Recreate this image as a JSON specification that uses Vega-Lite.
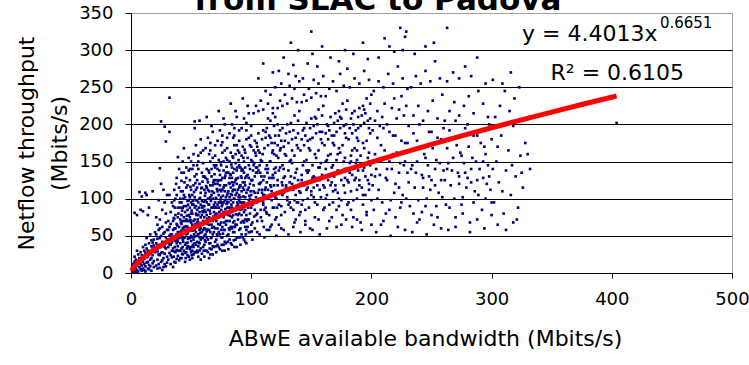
{
"$schema":"https://vega.github.io/schema/vega-lite/v6.json",
"autosize":{"type":"none"},
"width":601,"height":260,
"padding":{"left":131,"top":13,"right":17,"bottom":92},
"background":"white",
"config":{"view":{"stroke":"#a0a0a0","strokeWidth":1},"font":"DejaVu Sans"},
"datasets":{
"pts":[
{"x":1,"y":2},{"x":2,"y":5},{"x":1,"y":8},{"x":3,"y":3},{"x":2,"y":12},{"x":4,"y":7},{"x":3,"y":15},{"x":5,"y":4},{"x":4,"y":18},{"x":5,"y":10},{"x":6,"y":2},{"x":6,"y":14},{"x":7,"y":8},{"x":7,"y":20},{"x":8,"y":5},{"x":8,"y":12},{"x":9,"y":3},{"x":9,"y":17},{"x":6,"y":25},{"x":8,"y":28},{"x":9,"y":10},{"x":3,"y":22},{"x":5,"y":30},{"x":7,"y":14},{"x":9,"y":24},{"x":2,"y":1},{"x":4,"y":1},{"x":10,"y":6},{"x":10,"y":15},{"x":10,"y":35},
{"x":11,"y":4},{"x":11,"y":19},{"x":12,"y":9},{"x":12,"y":27},{"x":13,"y":14},{"x":13,"y":33},{"x":14,"y":6},{"x":14,"y":22},{"x":15,"y":40},{"x":15,"y":11},{"x":16,"y":18},{"x":16,"y":29},{"x":17,"y":3},{"x":17,"y":36},{"x":18,"y":13},{"x":18,"y":24},{"x":19,"y":45},{"x":19,"y":8},{"x":11,"y":12},{"x":12,"y":38},{"x":13,"y":47},{"x":14,"y":30},{"x":15,"y":25},{"x":16,"y":52},{"x":17,"y":20},{"x":18,"y":33},{"x":19,"y":16},{"x":20,"y":28},{"x":12,"y":2},{"x":14,"y":15},{"x":16,"y":9},{"x":18,"y":41},{"x":20,"y":55},{"x":11,"y":30},{"x":13,"y":21},{"x":15,"y":5},{"x":17,"y":44},{"x":19,"y":37},{"x":10,"y":83},{"x":12,"y":108},{"x":18,"y":110},{"x":9,"y":103},{"x":15,"y":88},{"x":14,"y":78},
{"x":21,"y":10},{"x":21,"y":31},{"x":22,"y":18},{"x":22,"y":46},{"x":23,"y":25},{"x":23,"y":58},{"x":24,"y":7},{"x":24,"y":38},{"x":25,"y":15},{"x":25,"y":50},{"x":26,"y":28},{"x":26,"y":62},{"x":27,"y":20},{"x":27,"y":41},{"x":28,"y":12},{"x":28,"y":55},{"x":29,"y":33},{"x":29,"y":68},{"x":30,"y":22},{"x":30,"y":45},{"x":21,"y":52},{"x":22,"y":6},{"x":23,"y":36},{"x":24,"y":60},{"x":25,"y":27},{"x":26,"y":42},{"x":27,"y":8},{"x":28,"y":35},{"x":29,"y":48},{"x":30,"y":14},{"x":21,"y":40},{"x":22,"y":29},{"x":23,"y":12},{"x":24,"y":47},{"x":25,"y":35},{"x":26,"y":17},{"x":27,"y":53},{"x":28,"y":26},{"x":29,"y":9},{"x":30,"y":58},{"x":22,"y":65},{"x":24,"y":72},{"x":26,"y":85},{"x":28,"y":95},{"x":23,"y":98},{"x":27,"y":112},{"x":25,"y":120},{"x":29,"y":80},{"x":30,"y":105},{"x":21,"y":75},{"x":32,"y":236},{"x":26,"y":4},{"x":24,"y":24},{"x":22,"y":37},
{"x":25,"y":204},{"x":53,"y":204},{"x":28,"y":197},{"x":29,"y":177},{"x":32,"y":190},{"x":5,"y":78},{"x":7,"y":109},{"x":24,"y":141},{"x":39,"y":156},{"x":13,"y":105},{"x":3,"y":81},{"x":8,"y":85},
{"x":31,"y":18},{"x":31,"y":45},{"x":32,"y":27},{"x":32,"y":62},{"x":33,"y":12},{"x":33,"y":38},{"x":34,"y":52},{"x":34,"y":21},{"x":35,"y":70},{"x":35,"y":33},{"x":36,"y":15},{"x":36,"y":48},{"x":37,"y":28},{"x":37,"y":60},{"x":38,"y":40},{"x":38,"y":19},{"x":39,"y":55},{"x":39,"y":75},{"x":40,"y":30},{"x":40,"y":62},{"x":31,"y":35},{"x":32,"y":50},{"x":33,"y":24},{"x":34,"y":41},{"x":35,"y":58},{"x":36,"y":29},{"x":37,"y":43},{"x":38,"y":66},{"x":39,"y":23},{"x":40,"y":47},{"x":31,"y":70},{"x":33,"y":82},{"x":35,"y":90},{"x":37,"y":100},{"x":39,"y":88},{"x":34,"y":95},{"x":36,"y":112},{"x":38,"y":128},{"x":32,"y":105},{"x":40,"y":140},{"x":35,"y":8},{"x":37,"y":14},{"x":39,"y":36},{"x":31,"y":58},{"x":33,"y":66},{"x":36,"y":73},{"x":38,"y":52},{"x":40,"y":17},{"x":34,"y":30},{"x":32,"y":39},{"x":35,"y":44},{"x":39,"y":42},{"x":36,"y":60},{"x":38,"y":31},{"x":33,"y":52},{"x":37,"y":78},
{"x":41,"y":20},{"x":41,"y":55},{"x":42,"y":33},{"x":42,"y":78},{"x":43,"y":45},{"x":43,"y":25},{"x":44,"y":62},{"x":44,"y":90},{"x":45,"y":38},{"x":45,"y":70},{"x":46,"y":28},{"x":46,"y":52},{"x":47,"y":85},{"x":47,"y":41},{"x":48,"y":60},{"x":48,"y":22},{"x":49,"y":75},{"x":49,"y":47},{"x":50,"y":35},{"x":50,"y":95},{"x":41,"y":40},{"x":42,"y":66},{"x":43,"y":88},{"x":44,"y":30},{"x":45,"y":55},{"x":46,"y":72},{"x":47,"y":36},{"x":48,"y":48},{"x":49,"y":58},{"x":50,"y":68},{"x":41,"y":100},{"x":43,"y":110},{"x":45,"y":102},{"x":47,"y":118},{"x":49,"y":125},{"x":42,"y":135},{"x":46,"y":142},{"x":48,"y":155},{"x":44,"y":168},{"x":50,"y":112},{"x":41,"y":72},{"x":42,"y":48},{"x":43,"y":60},{"x":44,"y":47},{"x":45,"y":82},{"x":46,"y":40},{"x":47,"y":62},{"x":48,"y":78},{"x":49,"y":32},{"x":50,"y":50},{"x":41,"y":30},{"x":42,"y":20},{"x":43,"y":35},{"x":44,"y":75},{"x":45,"y":27},{"x":46,"y":90},{"x":47,"y":53},{"x":48,"y":35},{"x":49,"y":88},{"x":50,"y":28},{"x":42,"y":95},{"x":44,"y":105},{"x":46,"y":115},{"x":48,"y":98},{"x":50,"y":80},{"x":43,"y":70},{"x":45,"y":15},{"x":47,"y":24},{"x":49,"y":18},{"x":41,"y":88},{"x":44,"y":55},{"x":46,"y":63},{"x":48,"y":70},{"x":50,"y":43},{"x":42,"y":57},{"x":47,"y":97},{"x":43,"y":150},{"x":49,"y":140},
{"x":51,"y":30},{"x":51,"y":65},{"x":52,"y":45},{"x":52,"y":92},{"x":53,"y":28},{"x":53,"y":72},{"x":54,"y":55},{"x":54,"y":38},{"x":55,"y":85},{"x":55,"y":50},{"x":56,"y":22},{"x":56,"y":68},{"x":57,"y":40},{"x":57,"y":100},{"x":58,"y":60},{"x":58,"y":33},{"x":59,"y":78},{"x":59,"y":48},{"x":60,"y":90},{"x":60,"y":35},{"x":51,"y":48},{"x":52,"y":70},{"x":53,"y":58},{"x":54,"y":80},{"x":55,"y":42},{"x":56,"y":95},{"x":57,"y":62},{"x":58,"y":75},{"x":59,"y":55},{"x":60,"y":70},{"x":51,"y":105},{"x":52,"y":118},{"x":53,"y":130},{"x":54,"y":112},{"x":55,"y":125},{"x":56,"y":140},{"x":57,"y":120},{"x":58,"y":108},{"x":59,"y":135},{"x":60,"y":148},{"x":51,"y":20},{"x":52,"y":25},{"x":53,"y":40},{"x":54,"y":66},{"x":55,"y":30},{"x":56,"y":52},{"x":57,"y":82},{"x":58,"y":45},{"x":59,"y":26},{"x":60,"y":58},{"x":51,"y":80},{"x":52,"y":58},{"x":53,"y":88},{"x":54,"y":98},{"x":55,"y":68},{"x":56,"y":36},{"x":57,"y":48},{"x":58,"y":92},{"x":59,"y":65},{"x":60,"y":47},{"x":52,"y":160},{"x":54,"y":172},{"x":56,"y":158},{"x":58,"y":180},{"x":60,"y":165},{"x":53,"y":195},{"x":57,"y":205},{"x":55,"y":145},{"x":59,"y":115},{"x":51,"y":92},{"x":52,"y":35},{"x":54,"y":28},{"x":56,"y":78},{"x":58,"y":18},{"x":60,"y":82},{"x":53,"y":102},{"x":55,"y":98},{"x":57,"y":30},{"x":59,"y":88},{"x":51,"y":140},
{"x":61,"y":38},{"x":61,"y":75},{"x":62,"y":52},{"x":62,"y":98},{"x":63,"y":30},{"x":63,"y":66},{"x":64,"y":85},{"x":64,"y":45},{"x":65,"y":110},{"x":65,"y":58},{"x":66,"y":25},{"x":66,"y":80},{"x":67,"y":48},{"x":67,"y":105},{"x":68,"y":70},{"x":68,"y":36},{"x":69,"y":92},{"x":69,"y":55},{"x":70,"y":120},{"x":70,"y":42},{"x":61,"y":60},{"x":62,"y":82},{"x":63,"y":95},{"x":64,"y":70},{"x":65,"y":40},{"x":66,"y":102},{"x":67,"y":65},{"x":68,"y":88},{"x":69,"y":72},{"x":70,"y":60},{"x":61,"y":112},{"x":62,"y":128},{"x":63,"y":140},{"x":64,"y":122},{"x":65,"y":135},{"x":66,"y":150},{"x":67,"y":130},{"x":68,"y":118},{"x":69,"y":145},{"x":70,"y":158},{"x":61,"y":22},{"x":62,"y":30},{"x":63,"y":48},{"x":64,"y":28},{"x":65,"y":75},{"x":66,"y":55},{"x":67,"y":88},{"x":68,"y":52},{"x":69,"y":35},{"x":70,"y":78},{"x":61,"y":90},{"x":62,"y":68},{"x":63,"y":78},{"x":64,"y":100},{"x":65,"y":92},{"x":66,"y":40},{"x":67,"y":32},{"x":68,"y":100},{"x":69,"y":108},{"x":70,"y":95},{"x":62,"y":168},{"x":64,"y":182},{"x":66,"y":175},{"x":68,"y":190},{"x":70,"y":172},{"x":63,"y":210},{"x":67,"y":198},{"x":65,"y":160},{"x":69,"y":125},{"x":61,"y":130},{"x":62,"y":42},{"x":64,"y":58},{"x":66,"y":118},{"x":68,"y":25},{"x":70,"y":88},{"x":63,"y":115},{"x":65,"y":20},{"x":67,"y":72},{"x":69,"y":82},{"x":61,"y":50},
{"x":71,"y":45},{"x":71,"y":88},{"x":72,"y":60},{"x":72,"y":110},{"x":73,"y":35},{"x":73,"y":75},{"x":74,"y":95},{"x":74,"y":52},{"x":75,"y":125},{"x":75,"y":68},{"x":76,"y":30},{"x":76,"y":92},{"x":77,"y":58},{"x":77,"y":115},{"x":78,"y":80},{"x":78,"y":42},{"x":79,"y":102},{"x":79,"y":65},{"x":80,"y":135},{"x":80,"y":50},{"x":71,"y":70},{"x":72,"y":92},{"x":73,"y":105},{"x":74,"y":78},{"x":75,"y":48},{"x":76,"y":112},{"x":77,"y":75},{"x":78,"y":98},{"x":79,"y":82},{"x":80,"y":70},{"x":71,"y":125},{"x":72,"y":140},{"x":73,"y":152},{"x":74,"y":132},{"x":75,"y":145},{"x":76,"y":162},{"x":77,"y":138},{"x":78,"y":128},{"x":79,"y":155},{"x":80,"y":168},{"x":71,"y":28},{"x":72,"y":38},{"x":73,"y":55},{"x":74,"y":32},{"x":75,"y":85},{"x":76,"y":62},{"x":77,"y":95},{"x":78,"y":58},{"x":79,"y":40},{"x":80,"y":88},{"x":71,"y":100},{"x":72,"y":78},{"x":73,"y":88},{"x":74,"y":112},{"x":75,"y":102},{"x":76,"y":48},{"x":77,"y":38},{"x":78,"y":110},{"x":79,"y":118},{"x":80,"y":105},{"x":72,"y":178},{"x":74,"y":192},{"x":76,"y":185},{"x":78,"y":200},{"x":80,"y":182},{"x":73,"y":218},{"x":77,"y":208},{"x":75,"y":172},{"x":79,"y":135},{"x":71,"y":145},{"x":72,"y":50},{"x":74,"y":65},{"x":76,"y":128},{"x":78,"y":30},{"x":80,"y":96},{"x":73,"y":125},{"x":75,"y":95},{"x":77,"y":82},
{"x":81,"y":52},{"x":81,"y":95},{"x":82,"y":70},{"x":82,"y":120},{"x":83,"y":40},{"x":83,"y":85},{"x":84,"y":105},{"x":84,"y":60},{"x":85,"y":135},{"x":85,"y":78},{"x":86,"y":35},{"x":86,"y":100},{"x":87,"y":65},{"x":87,"y":125},{"x":88,"y":90},{"x":88,"y":48},{"x":89,"y":112},{"x":89,"y":72},{"x":90,"y":145},{"x":90,"y":58},{"x":81,"y":78},{"x":82,"y":102},{"x":83,"y":115},{"x":84,"y":88},{"x":85,"y":55},{"x":86,"y":122},{"x":87,"y":85},{"x":88,"y":108},{"x":89,"y":92},{"x":90,"y":80},{"x":81,"y":135},{"x":82,"y":150},{"x":83,"y":162},{"x":84,"y":142},{"x":85,"y":155},{"x":86,"y":172},{"x":87,"y":148},{"x":88,"y":138},{"x":89,"y":165},{"x":90,"y":178},{"x":81,"y":32},{"x":82,"y":45},{"x":83,"y":62},{"x":84,"y":38},{"x":85,"y":95},{"x":86,"y":70},{"x":87,"y":105},{"x":88,"y":65},{"x":89,"y":48},{"x":90,"y":98},{"x":81,"y":110},{"x":82,"y":88},{"x":83,"y":98},{"x":84,"y":122},{"x":85,"y":112},{"x":86,"y":55},{"x":87,"y":45},{"x":88,"y":120},{"x":89,"y":128},{"x":90,"y":115},{"x":82,"y":188},{"x":84,"y":200},{"x":86,"y":195},{"x":88,"y":210},{"x":90,"y":192},{"x":83,"y":228},{"x":87,"y":218},{"x":85,"y":182},{"x":82,"y":58},{"x":84,"y":75},{"x":86,"y":140},{"x":88,"y":35},{"x":90,"y":105},{"x":83,"y":132},{"x":85,"y":68},
{"x":91,"y":60},{"x":91,"y":102},{"x":92,"y":78},{"x":92,"y":128},{"x":93,"y":48},{"x":93,"y":92},{"x":94,"y":112},{"x":94,"y":68},{"x":95,"y":142},{"x":95,"y":85},{"x":96,"y":40},{"x":96,"y":108},{"x":97,"y":72},{"x":97,"y":132},{"x":98,"y":98},{"x":98,"y":55},{"x":99,"y":120},{"x":99,"y":80},{"x":100,"y":152},{"x":100,"y":65},{"x":91,"y":85},{"x":92,"y":110},{"x":93,"y":122},{"x":94,"y":95},{"x":95,"y":62},{"x":96,"y":130},{"x":97,"y":92},{"x":98,"y":115},{"x":99,"y":100},{"x":100,"y":88},{"x":91,"y":142},{"x":92,"y":158},{"x":93,"y":170},{"x":94,"y":150},{"x":95,"y":162},{"x":96,"y":180},{"x":97,"y":155},{"x":98,"y":145},{"x":99,"y":172},{"x":100,"y":185},{"x":91,"y":38},{"x":92,"y":52},{"x":93,"y":70},{"x":94,"y":45},{"x":95,"y":102},{"x":96,"y":78},{"x":97,"y":112},{"x":98,"y":72},{"x":99,"y":55},{"x":100,"y":105},{"x":92,"y":195},{"x":94,"y":208},{"x":96,"y":202},{"x":98,"y":215},{"x":100,"y":198},{"x":93,"y":235},{"x":97,"y":225},{"x":91,"y":118},{"x":93,"y":138},{"x":95,"y":118},{"x":97,"y":62},{"x":99,"y":140},{"x":92,"y":95},{"x":94,"y":82},{"x":96,"y":58},{"x":98,"y":128},{"x":100,"y":125},{"x":95,"y":42},
{"x":101,"y":68},{"x":102,"y":110},{"x":103,"y":85},{"x":104,"y":135},{"x":105,"y":55},{"x":106,"y":98},{"x":107,"y":120},{"x":108,"y":75},{"x":109,"y":150},{"x":110,"y":92},{"x":111,"y":48},{"x":112,"y":115},{"x":113,"y":80},{"x":114,"y":140},{"x":115,"y":105},{"x":116,"y":62},{"x":117,"y":128},{"x":118,"y":88},{"x":119,"y":160},{"x":120,"y":72},{"x":101,"y":92},{"x":102,"y":118},{"x":103,"y":130},{"x":104,"y":102},{"x":105,"y":70},{"x":106,"y":138},{"x":107,"y":100},{"x":108,"y":122},{"x":109,"y":108},{"x":110,"y":95},{"x":111,"y":130},{"x":112,"y":88},{"x":113,"y":145},{"x":114,"y":112},{"x":115,"y":78},{"x":116,"y":150},{"x":117,"y":98},{"x":118,"y":132},{"x":119,"y":118},{"x":120,"y":102},{"x":101,"y":150},{"x":102,"y":165},{"x":103,"y":178},{"x":104,"y":158},{"x":105,"y":170},{"x":106,"y":188},{"x":107,"y":162},{"x":108,"y":152},{"x":109,"y":180},{"x":110,"y":192},{"x":111,"y":168},{"x":112,"y":182},{"x":113,"y":195},{"x":114,"y":172},{"x":115,"y":185},{"x":116,"y":205},{"x":117,"y":175},{"x":118,"y":165},{"x":119,"y":198},{"x":120,"y":210},{"x":101,"y":45},{"x":103,"y":60},{"x":105,"y":80},{"x":107,"y":52},{"x":109,"y":112},{"x":111,"y":85},{"x":113,"y":122},{"x":115,"y":58},{"x":117,"y":65},{"x":119,"y":88},{"x":102,"y":215},{"x":104,"y":225},{"x":106,"y":218},{"x":108,"y":232},{"x":110,"y":220},{"x":112,"y":245},{"x":114,"y":228},{"x":116,"y":240},{"x":118,"y":222},{"x":120,"y":250},{"x":101,"y":125},{"x":103,"y":108},{"x":105,"y":142},{"x":107,"y":145},{"x":109,"y":70},{"x":111,"y":105},{"x":113,"y":58},{"x":115,"y":128},{"x":117,"y":110},{"x":119,"y":140},{"x":104,"y":78},{"x":108,"y":98},{"x":112,"y":140},{"x":116,"y":118},{"x":120,"y":135},{"x":106,"y":262},{"x":110,"y":282},{"x":118,"y":270},
{"x":121,"y":75},{"x":122,"y":118},{"x":123,"y":92},{"x":124,"y":142},{"x":125,"y":60},{"x":126,"y":105},{"x":127,"y":128},{"x":128,"y":82},{"x":129,"y":158},{"x":130,"y":98},{"x":131,"y":52},{"x":132,"y":122},{"x":133,"y":88},{"x":134,"y":148},{"x":135,"y":112},{"x":136,"y":68},{"x":137,"y":135},{"x":138,"y":95},{"x":139,"y":168},{"x":140,"y":78},{"x":121,"y":100},{"x":122,"y":125},{"x":123,"y":138},{"x":124,"y":110},{"x":125,"y":78},{"x":126,"y":145},{"x":127,"y":108},{"x":128,"y":130},{"x":129,"y":115},{"x":130,"y":102},{"x":131,"y":138},{"x":132,"y":95},{"x":133,"y":152},{"x":134,"y":120},{"x":135,"y":85},{"x":136,"y":158},{"x":137,"y":105},{"x":138,"y":140},{"x":139,"y":125},{"x":140,"y":110},{"x":121,"y":158},{"x":122,"y":172},{"x":123,"y":185},{"x":124,"y":165},{"x":125,"y":178},{"x":126,"y":195},{"x":127,"y":170},{"x":128,"y":160},{"x":129,"y":188},{"x":130,"y":200},{"x":131,"y":175},{"x":132,"y":190},{"x":133,"y":202},{"x":134,"y":180},{"x":135,"y":192},{"x":136,"y":212},{"x":137,"y":182},{"x":138,"y":172},{"x":139,"y":205},{"x":140,"y":218},{"x":121,"y":50},{"x":123,"y":65},{"x":125,"y":90},{"x":127,"y":58},{"x":129,"y":118},{"x":131,"y":92},{"x":133,"y":130},{"x":135,"y":62},{"x":137,"y":72},{"x":139,"y":95},{"x":122,"y":222},{"x":124,"y":232},{"x":126,"y":225},{"x":128,"y":240},{"x":130,"y":228},{"x":132,"y":252},{"x":134,"y":235},{"x":136,"y":248},{"x":138,"y":230},{"x":140,"y":258},{"x":123,"y":272},{"x":127,"y":290},{"x":131,"y":268},{"x":135,"y":280},{"x":139,"y":300},{"x":125,"y":255},{"x":133,"y":310},{"x":137,"y":265},
{"x":141,"y":82},{"x":142,"y":125},{"x":143,"y":98},{"x":144,"y":150},{"x":145,"y":65},{"x":146,"y":112},{"x":147,"y":135},{"x":148,"y":88},{"x":149,"y":165},{"x":150,"y":105},{"x":151,"y":58},{"x":152,"y":130},{"x":153,"y":95},{"x":154,"y":155},{"x":155,"y":118},{"x":156,"y":72},{"x":157,"y":142},{"x":158,"y":102},{"x":159,"y":175},{"x":160,"y":85},{"x":141,"y":108},{"x":142,"y":132},{"x":143,"y":145},{"x":144,"y":118},{"x":145,"y":85},{"x":146,"y":152},{"x":147,"y":115},{"x":148,"y":138},{"x":149,"y":122},{"x":150,"y":110},{"x":151,"y":145},{"x":152,"y":102},{"x":153,"y":160},{"x":154,"y":128},{"x":155,"y":92},{"x":156,"y":165},{"x":157,"y":112},{"x":158,"y":148},{"x":159,"y":132},{"x":160,"y":118},{"x":141,"y":165},{"x":142,"y":180},{"x":143,"y":192},{"x":144,"y":172},{"x":145,"y":185},{"x":146,"y":202},{"x":147,"y":178},{"x":148,"y":168},{"x":149,"y":195},{"x":150,"y":208},{"x":151,"y":182},{"x":152,"y":198},{"x":153,"y":210},{"x":154,"y":188},{"x":155,"y":200},{"x":156,"y":220},{"x":157,"y":190},{"x":158,"y":180},{"x":159,"y":212},{"x":160,"y":225},{"x":142,"y":230},{"x":144,"y":240},{"x":146,"y":232},{"x":148,"y":248},{"x":150,"y":236},{"x":152,"y":260},{"x":154,"y":242},{"x":156,"y":255},{"x":158,"y":238},{"x":160,"y":265},{"x":141,"y":55},{"x":145,"y":70},{"x":149,"y":60},{"x":153,"y":75},{"x":157,"y":52},{"x":147,"y":282},{"x":151,"y":295},{"x":155,"y":278},{"x":159,"y":305},{"x":143,"y":262},{"x":150,"y":325},
{"x":161,"y":88},{"x":162,"y":130},{"x":163,"y":105},{"x":164,"y":158},{"x":165,"y":70},{"x":166,"y":118},{"x":167,"y":142},{"x":168,"y":95},{"x":169,"y":172},{"x":170,"y":112},{"x":171,"y":62},{"x":172,"y":138},{"x":173,"y":100},{"x":174,"y":162},{"x":175,"y":125},{"x":176,"y":78},{"x":177,"y":150},{"x":178,"y":108},{"x":179,"y":182},{"x":180,"y":92},{"x":161,"y":115},{"x":162,"y":140},{"x":163,"y":152},{"x":164,"y":125},{"x":165,"y":92},{"x":166,"y":160},{"x":167,"y":122},{"x":168,"y":145},{"x":169,"y":130},{"x":170,"y":118},{"x":171,"y":152},{"x":172,"y":108},{"x":173,"y":168},{"x":174,"y":135},{"x":175,"y":98},{"x":176,"y":172},{"x":177,"y":118},{"x":178,"y":155},{"x":179,"y":140},{"x":180,"y":125},{"x":161,"y":172},{"x":162,"y":188},{"x":163,"y":200},{"x":164,"y":180},{"x":165,"y":192},{"x":166,"y":210},{"x":167,"y":185},{"x":168,"y":175},{"x":169,"y":202},{"x":170,"y":215},{"x":171,"y":190},{"x":172,"y":205},{"x":173,"y":218},{"x":174,"y":195},{"x":175,"y":208},{"x":176,"y":228},{"x":177,"y":198},{"x":178,"y":188},{"x":179,"y":220},{"x":180,"y":232},{"x":162,"y":238},{"x":165,"y":248},{"x":168,"y":258},{"x":171,"y":245},{"x":174,"y":268},{"x":177,"y":252},{"x":180,"y":275},{"x":163,"y":60},{"x":167,"y":75},{"x":171,"y":85},{"x":175,"y":65},{"x":179,"y":72},{"x":166,"y":290},{"x":173,"y":285},{"x":178,"y":300},
{"x":181,"y":95},{"x":182,"y":135},{"x":183,"y":110},{"x":184,"y":165},{"x":185,"y":75},{"x":186,"y":125},{"x":187,"y":148},{"x":188,"y":100},{"x":189,"y":178},{"x":190,"y":118},{"x":191,"y":68},{"x":192,"y":145},{"x":193,"y":105},{"x":194,"y":168},{"x":195,"y":130},{"x":196,"y":82},{"x":197,"y":155},{"x":198,"y":112},{"x":199,"y":188},{"x":200,"y":98},{"x":181,"y":122},{"x":182,"y":148},{"x":183,"y":158},{"x":184,"y":132},{"x":185,"y":98},{"x":186,"y":168},{"x":187,"y":128},{"x":188,"y":152},{"x":189,"y":138},{"x":190,"y":125},{"x":191,"y":158},{"x":192,"y":115},{"x":193,"y":175},{"x":194,"y":142},{"x":195,"y":105},{"x":196,"y":178},{"x":197,"y":125},{"x":198,"y":162},{"x":199,"y":145},{"x":200,"y":132},{"x":181,"y":180},{"x":182,"y":195},{"x":183,"y":208},{"x":184,"y":188},{"x":185,"y":200},{"x":186,"y":218},{"x":187,"y":192},{"x":188,"y":182},{"x":189,"y":210},{"x":190,"y":222},{"x":191,"y":198},{"x":192,"y":212},{"x":193,"y":225},{"x":194,"y":202},{"x":195,"y":215},{"x":196,"y":235},{"x":197,"y":205},{"x":198,"y":195},{"x":199,"y":228},{"x":200,"y":240},{"x":182,"y":250},{"x":186,"y":262},{"x":190,"y":255},{"x":194,"y":272},{"x":198,"y":260},{"x":184,"y":62},{"x":188,"y":72},{"x":192,"y":58},{"x":196,"y":78},{"x":200,"y":65},{"x":185,"y":295},{"x":193,"y":310},{"x":197,"y":288},
{"x":202,"y":85},{"x":204,"y":140},{"x":206,"y":112},{"x":208,"y":172},{"x":210,"y":70},{"x":212,"y":128},{"x":214,"y":155},{"x":216,"y":98},{"x":218,"y":185},{"x":220,"y":120},{"x":222,"y":62},{"x":224,"y":148},{"x":226,"y":105},{"x":228,"y":175},{"x":230,"y":135},{"x":201,"y":118},{"x":203,"y":160},{"x":205,"y":182},{"x":207,"y":132},{"x":209,"y":95},{"x":211,"y":165},{"x":213,"y":125},{"x":215,"y":150},{"x":217,"y":140},{"x":219,"y":108},{"x":221,"y":162},{"x":223,"y":115},{"x":225,"y":178},{"x":227,"y":145},{"x":229,"y":100},{"x":201,"y":192},{"x":203,"y":205},{"x":205,"y":218},{"x":207,"y":198},{"x":209,"y":210},{"x":211,"y":228},{"x":213,"y":200},{"x":215,"y":190},{"x":217,"y":222},{"x":219,"y":235},{"x":221,"y":208},{"x":223,"y":220},{"x":225,"y":238},{"x":227,"y":212},{"x":229,"y":225},{"x":202,"y":245},{"x":206,"y":258},{"x":210,"y":250},{"x":214,"y":268},{"x":218,"y":255},{"x":222,"y":278},{"x":226,"y":262},{"x":230,"y":248},{"x":204,"y":55},{"x":208,"y":65},{"x":212,"y":80},{"x":216,"y":50},{"x":220,"y":75},{"x":224,"y":88},{"x":228,"y":58},{"x":211,"y":316},{"x":224,"y":330},{"x":229,"y":325},{"x":228,"y":318},{"x":219,"y":298},{"x":206,"y":290},{"x":215,"y":305},{"x":226,"y":300},
{"x":232,"y":90},{"x":234,"y":145},{"x":236,"y":115},{"x":238,"y":178},{"x":240,"y":72},{"x":242,"y":132},{"x":244,"y":160},{"x":246,"y":100},{"x":248,"y":190},{"x":250,"y":125},{"x":252,"y":65},{"x":254,"y":152},{"x":256,"y":108},{"x":258,"y":180},{"x":260,"y":138},{"x":231,"y":122},{"x":233,"y":165},{"x":235,"y":188},{"x":237,"y":135},{"x":239,"y":98},{"x":241,"y":170},{"x":243,"y":128},{"x":245,"y":155},{"x":247,"y":145},{"x":249,"y":112},{"x":251,"y":168},{"x":253,"y":118},{"x":255,"y":182},{"x":257,"y":148},{"x":259,"y":102},{"x":231,"y":198},{"x":235,"y":212},{"x":239,"y":225},{"x":243,"y":205},{"x":247,"y":218},{"x":251,"y":232},{"x":255,"y":208},{"x":259,"y":240},{"x":233,"y":250},{"x":237,"y":265},{"x":241,"y":255},{"x":245,"y":272},{"x":249,"y":258},{"x":253,"y":285},{"x":257,"y":262},{"x":234,"y":55},{"x":238,"y":68},{"x":242,"y":82},{"x":246,"y":52},{"x":250,"y":78},{"x":254,"y":90},{"x":258,"y":60},{"x":263,"y":330},{"x":245,"y":305},{"x":236,"y":295},{"x":252,"y":310},
{"x":262,"y":92},{"x":264,"y":148},{"x":266,"y":118},{"x":268,"y":182},{"x":270,"y":75},{"x":272,"y":135},{"x":274,"y":162},{"x":276,"y":102},{"x":278,"y":195},{"x":280,"y":128},{"x":282,"y":68},{"x":284,"y":155},{"x":286,"y":110},{"x":288,"y":185},{"x":290,"y":140},{"x":292,"y":85},{"x":294,"y":170},{"x":296,"y":120},{"x":298,"y":200},{"x":300,"y":95},{"x":261,"y":125},{"x":263,"y":168},{"x":265,"y":192},{"x":267,"y":138},{"x":269,"y":100},{"x":271,"y":172},{"x":273,"y":130},{"x":275,"y":158},{"x":277,"y":148},{"x":279,"y":115},{"x":281,"y":170},{"x":283,"y":122},{"x":285,"y":185},{"x":287,"y":150},{"x":289,"y":105},{"x":291,"y":175},{"x":293,"y":128},{"x":295,"y":160},{"x":297,"y":145},{"x":299,"y":112},{"x":261,"y":205},{"x":265,"y":218},{"x":269,"y":230},{"x":273,"y":212},{"x":277,"y":225},{"x":281,"y":238},{"x":285,"y":215},{"x":289,"y":245},{"x":293,"y":228},{"x":297,"y":210},{"x":263,"y":258},{"x":268,"y":270},{"x":273,"y":262},{"x":278,"y":278},{"x":283,"y":265},{"x":288,"y":290},{"x":295,"y":255},{"x":264,"y":58},{"x":270,"y":62},{"x":276,"y":80},{"x":282,"y":55},{"x":288,"y":72},{"x":294,"y":60},{"x":300,"y":78},
{"x":302,"y":95},{"x":304,"y":150},{"x":306,"y":122},{"x":308,"y":185},{"x":310,"y":80},{"x":312,"y":138},{"x":314,"y":165},{"x":316,"y":105},{"x":318,"y":198},{"x":320,"y":130},{"x":322,"y":88},{"x":324,"y":158},{"x":326,"y":115},{"x":328,"y":175},{"x":303,"y":210},{"x":307,"y":225},{"x":311,"y":245},{"x":315,"y":218},{"x":319,"y":235},{"x":323,"y":250},{"x":301,"y":140},{"x":305,"y":170},{"x":309,"y":110},{"x":313,"y":200},{"x":317,"y":145},{"x":321,"y":72},{"x":325,"y":135},{"x":305,"y":65},{"x":312,"y":58},{"x":318,"y":68},{"x":301,"y":260},{"x":309,"y":255},{"x":316,"y":270},{"x":330,"y":160},{"x":332,"y":140},
{"x":404,"y":202},
{"x":35.5,"y":22},{"x":36.5,"y":35},{"x":37.5,"y":51},{"x":38.5,"y":64},{"x":39.5,"y":80},{"x":40.5,"y":95},{"x":41.5,"y":110},{"x":42.5,"y":26},{"x":43.5,"y":42},{"x":44.5,"y":58},{"x":35.5,"y":74},{"x":36.5,"y":88},{"x":37.5,"y":120},{"x":38.5,"y":45},{"x":39.5,"y":30},{"x":40.5,"y":55},{"x":41.5,"y":68},{"x":42.5,"y":84},{"x":43.5,"y":100},{"x":44.5,"y":122},{"x":36,"y":98},{"x":38,"y":105},{"x":40,"y":115},{"x":42,"y":124},{"x":44,"y":135},
{"x":45.5,"y":20},{"x":46.5,"y":33},{"x":47.5,"y":46},{"x":48.5,"y":59},{"x":49.5,"y":71},{"x":50.5,"y":84},{"x":51.5,"y":97},{"x":52.5,"y":109},{"x":53.5,"y":121},{"x":54.5,"y":133},{"x":45.5,"y":62},{"x":46.5,"y":77},{"x":47.5,"y":92},{"x":48.5,"y":105},{"x":49.5,"y":116},{"x":50.5,"y":24},{"x":51.5,"y":38},{"x":52.5,"y":52},{"x":53.5,"y":65},{"x":54.5,"y":78},{"x":46,"y":128},{"x":48,"y":138},{"x":50,"y":150},{"x":52,"y":145},{"x":54,"y":90},{"x":45,"y":48},{"x":47,"y":70},{"x":49,"y":102},{"x":51,"y":57},{"x":53,"y":49},
{"x":55.5,"y":28},{"x":56.5,"y":41},{"x":57.5,"y":54},{"x":58.5,"y":67},{"x":59.5,"y":83},{"x":60.5,"y":96},{"x":61.5,"y":104},{"x":62.5,"y":117},{"x":63.5,"y":126},{"x":64.5,"y":138},{"x":55.5,"y":72},{"x":56.5,"y":88},{"x":57.5,"y":101},{"x":58.5,"y":114},{"x":59.5,"y":123},{"x":60.5,"y":30},{"x":61.5,"y":44},{"x":62.5,"y":59},{"x":63.5,"y":73},{"x":64.5,"y":92},{"x":56,"y":150},{"x":58,"y":162},{"x":60,"y":130},{"x":62,"y":108},{"x":64,"y":112},{"x":55,"y":115},{"x":57,"y":58},{"x":59,"y":97},{"x":61,"y":85},{"x":63,"y":56},{"x":65,"y":65},{"x":65,"y":100},
{"x":65.5,"y":33},{"x":66.5,"y":47},{"x":67.5,"y":61},{"x":68.5,"y":76},{"x":69.5,"y":89},{"x":70.5,"y":101},{"x":71.5,"y":113},{"x":72.5,"y":124},{"x":73.5,"y":138},{"x":74.5,"y":149},{"x":65.5,"y":84},{"x":66.5,"y":97},{"x":67.5,"y":110},{"x":68.5,"y":122},{"x":69.5,"y":133},{"x":70.5,"y":36},{"x":71.5,"y":52},{"x":72.5,"y":66},{"x":73.5,"y":82},{"x":74.5,"y":99},{"x":66,"y":165},{"x":68,"y":155},{"x":70,"y":142},{"x":72,"y":120},{"x":74,"y":118},{"x":67,"y":140},{"x":69,"y":62},{"x":71,"y":80},{"x":73,"y":95},{"x":75,"y":110},{"x":75,"y":58},
{"x":75.5,"y":38},{"x":76.5,"y":53},{"x":77.5,"y":68},{"x":78.5,"y":86},{"x":79.5,"y":93},{"x":80.5,"y":108},{"x":81.5,"y":121},{"x":82.5,"y":133},{"x":83.5,"y":146},{"x":84.5,"y":157},{"x":75.5,"y":90},{"x":76.5,"y":104},{"x":77.5,"y":118},{"x":78.5,"y":131},{"x":79.5,"y":143},{"x":80.5,"y":42},{"x":81.5,"y":60},{"x":82.5,"y":77},{"x":83.5,"y":92},{"x":84.5,"y":110},{"x":76,"y":176},{"x":78,"y":165},{"x":80,"y":152},{"x":82,"y":128},{"x":84,"y":128},{"x":77,"y":150},{"x":79,"y":70},{"x":81,"y":88},{"x":83,"y":106},{"x":85,"y":118},{"x":85,"y":62},
{"x":85.5,"y":44},{"x":86.5,"y":62},{"x":87.5,"y":79},{"x":88.5,"y":95},{"x":89.5,"y":102},{"x":90.5,"y":117},{"x":91.5,"y":130},{"x":92.5,"y":140},{"x":93.5,"y":155},{"x":94.5,"y":166},{"x":85.5,"y":100},{"x":86.5,"y":112},{"x":87.5,"y":127},{"x":88.5,"y":142},{"x":89.5,"y":152},{"x":90.5,"y":48},{"x":91.5,"y":68},{"x":92.5,"y":86},{"x":93.5,"y":103},{"x":94.5,"y":122},{"x":86,"y":185},{"x":88,"y":172},{"x":90,"y":162},{"x":92,"y":138},{"x":94,"y":135},{"x":87,"y":160},{"x":89,"y":78},{"x":91,"y":95},{"x":93,"y":115},{"x":95,"y":128},{"x":95,"y":72},
{"x":95.5,"y":52},{"x":96.5,"y":70},{"x":97.5,"y":88},{"x":98.5,"y":104},{"x":99.5,"y":110},{"x":100.5,"y":125},{"x":101.5,"y":138},{"x":102.5,"y":148},{"x":103.5,"y":162},{"x":104.5,"y":175},{"x":105.5,"y":108},{"x":106.5,"y":120},{"x":107.5,"y":135},{"x":108.5,"y":150},{"x":109.5,"y":160},{"x":100.5,"y":56},{"x":102.5,"y":76},{"x":104.5,"y":95},{"x":106.5,"y":112},{"x":108.5,"y":130},{"x":96,"y":192},{"x":98,"y":182},{"x":100,"y":170},{"x":102,"y":145},{"x":104,"y":142},{"x":106,"y":165},{"x":108,"y":85},{"x":110,"y":105},{"x":110,"y":125},{"x":105,"y":135},
{"x":110.5,"y":62},{"x":112.5,"y":82},{"x":114.5,"y":100},{"x":116.5,"y":116},{"x":118.5,"y":128},{"x":120.5,"y":142},{"x":122.5,"y":155},{"x":124.5,"y":168},{"x":111.5,"y":112},{"x":113.5,"y":135},{"x":115.5,"y":150},{"x":117.5,"y":162},{"x":119.5,"y":175},{"x":121.5,"y":88},{"x":123.5,"y":108},{"x":125.5,"y":122},{"x":112,"y":190},{"x":116,"y":182},{"x":120,"y":185},{"x":124,"y":192},{"x":114,"y":208},{"x":118,"y":215},{"x":122,"y":200},
{"x":127,"y":140},{"x":132,"y":150},{"x":136,"y":128},{"x":141,"y":120},{"x":146,"y":138},{"x":151,"y":128},{"x":156,"y":142},{"x":162,"y":150},{"x":167,"y":132},{"x":172,"y":160},{"x":178,"y":140},{"x":183,"y":150},{"x":188,"y":165},{"x":193,"y":138},{"x":198,"y":150},{"x":128,"y":178},{"x":134,"y":165},{"x":139,"y":188},{"x":144,"y":195},{"x":149,"y":180},{"x":154,"y":208},{"x":159,"y":190},{"x":164,"y":198},{"x":169,"y":185},{"x":174,"y":210},{"x":179,"y":200},{"x":184,"y":215},{"x":189,"y":195},{"x":194,"y":220},{"x":199,"y":208},{"x":126,"y":118},{"x":131,"y":112},{"x":136,"y":98},{"x":142,"y":92},{"x":147,"y":100},{"x":152,"y":115},{"x":157,"y":125},{"x":162,"y":100},{"x":168,"y":110},{"x":173,"y":90},{"x":178,"y":128},{"x":183,"y":85},{"x":188,"y":112},{"x":193,"y":92},{"x":198,"y":120},
{"x":203,"y":130},{"x":208,"y":150},{"x":213,"y":140},{"x":218,"y":160},{"x":223,"y":135},{"x":228,"y":150},{"x":233,"y":140},{"x":238,"y":150},{"x":243,"y":115},{"x":248,"y":130},{"x":253,"y":140},{"x":258,"y":125},{"x":263,"y":140},{"x":268,"y":155},{"x":273,"y":120},{"x":278,"y":135},{"x":283,"y":140},{"x":288,"y":125},{"x":293,"y":150},{"x":298,"y":130},{"x":205,"y":100},{"x":215,"y":85},{"x":225,"y":95},{"x":235,"y":80},{"x":245,"y":90},{"x":255,"y":75},{"x":265,"y":88},{"x":275,"y":92},{"x":285,"y":95},{"x":295,"y":100},{"x":210,"y":195},{"x":220,"y":185},{"x":230,"y":175},{"x":240,"y":200},{"x":250,"y":190},{"x":260,"y":195},{"x":270,"y":205},{"x":280,"y":200},{"x":290,"y":190},{"x":300,"y":180}
],
"fit":[
{"x":0.5,"y":2.78},{"x":1,"y":4.40},{"x":2,"y":6.98},{"x":3,"y":9.14},{"x":5,"y":12.84},{"x":7,"y":16.06},{"x":10,"y":20.36},{"x":15,"y":26.66},{"x":20,"y":32.28},{"x":30,"y":42.27},{"x":40,"y":51.18},{"x":50,"y":59.37},{"x":60,"y":67.03},{"x":70,"y":74.26},{"x":80,"y":81.16},{"x":90,"y":87.77},{"x":100,"y":94.15},{"x":120,"y":106.3},{"x":140,"y":117.8},{"x":160,"y":128.7},{"x":180,"y":139.2},{"x":200,"y":149.3},{"x":225,"y":161.5},{"x":250,"y":173.2},{"x":275,"y":184.5},{"x":300,"y":195.5},{"x":325,"y":206.2},{"x":350,"y":216.6},{"x":375,"y":226.8},{"x":404,"y":238.3}
],
"ttl":[{"label":"from SLAC to Padova"}]
},
"encoding":{
"x":{"type":"quantitative","scale":{"domain":[0,500],"nice":false},
 "axis":{"title":"ABwE available bandwidth (Mbits/s)","values":[0,100,200,300,400,500],"grid":false,"domainColor":"black","domainWidth":1,"tickColor":"black","tickSize":5,"labelFontSize":18,"labelFont":"DejaVu Sans","labelColor":"black","labelPadding":12,"labelFlush":false,"labelOverlap":false,"titleFontSize":22,"titleFont":"DejaVu Sans","titleFontWeight":"normal","titleColor":"black","titleBaseline":"alphabetic","titleX":294,"titleY":72}},
"y":{"type":"quantitative","scale":{"domain":[0,350],"nice":false},
 "axis":{"title":["Netflow throughput","(Mbits/s)"],"values":[0,50,100,150,200,250,300,350],"grid":true,"gridColor":{"condition":{"test":"datum.value === 350","value":"#a0a0a0"},"value":"black"},"gridOpacity":1,"gridWidth":1,"domainColor":"black","tickColor":"black","tickSize":6,"labelFontSize":18,"labelFont":"DejaVu Sans","labelColor":"black","labelPadding":12,"labelFlush":false,"labelOverlap":false,"titleFontSize":22,"titleFont":"DejaVu Sans","titleFontWeight":"normal","titleColor":"black","titleBaseline":"alphabetic","titleAngle":270,"titleX":-98,"titleY":130,"titleLineHeight":33}}
},
"layer":[
{"data":{"name":"pts"},"mark":{"type":"square","size":7,"color":"#000080","opacity":1},"encoding":{"x":{"field":"x","type":"quantitative"},"y":{"field":"y","type":"quantitative"}}},
{"data":{"name":"fit"},"mark":{"type":"line","color":"#ff0000","strokeWidth":5},"encoding":{"x":{"field":"x","type":"quantitative"},"y":{"field":"y","type":"quantitative"}}},
{"data":{"values":[{}]},"mark":{"type":"text","align":"right","baseline":"alphabetic","fontSize":22,"font":"DejaVu Sans","color":"black"},"encoding":{"x":{"datum":438},"y":{"datum":312},"text":{"value":"y = 4.4013x"}}},
{"data":{"values":[{}]},"mark":{"type":"text","align":"left","baseline":"alphabetic","fontSize":15,"font":"DejaVu Sans","color":"black"},"encoding":{"x":{"datum":440},"y":{"datum":330},"text":{"value":"0.6651"}}},
{"data":{"values":[{}]},"mark":{"type":"text","align":"center","baseline":"alphabetic","fontSize":22,"font":"DejaVu Sans","color":"black"},"encoding":{"x":{"datum":404.6},"y":{"datum":260},"text":{"value":"R² = 0.6105"}}},
{"data":{"name":"ttl"},"mark":{"type":"text","align":"center","baseline":"alphabetic","fontSize":31,"font":"DejaVu Sans","fontWeight":"bold","color":"black"},"encoding":{"x":{"datum":205.4},"y":{"datum":354},"text":{"field":"label"}}}
]
}
